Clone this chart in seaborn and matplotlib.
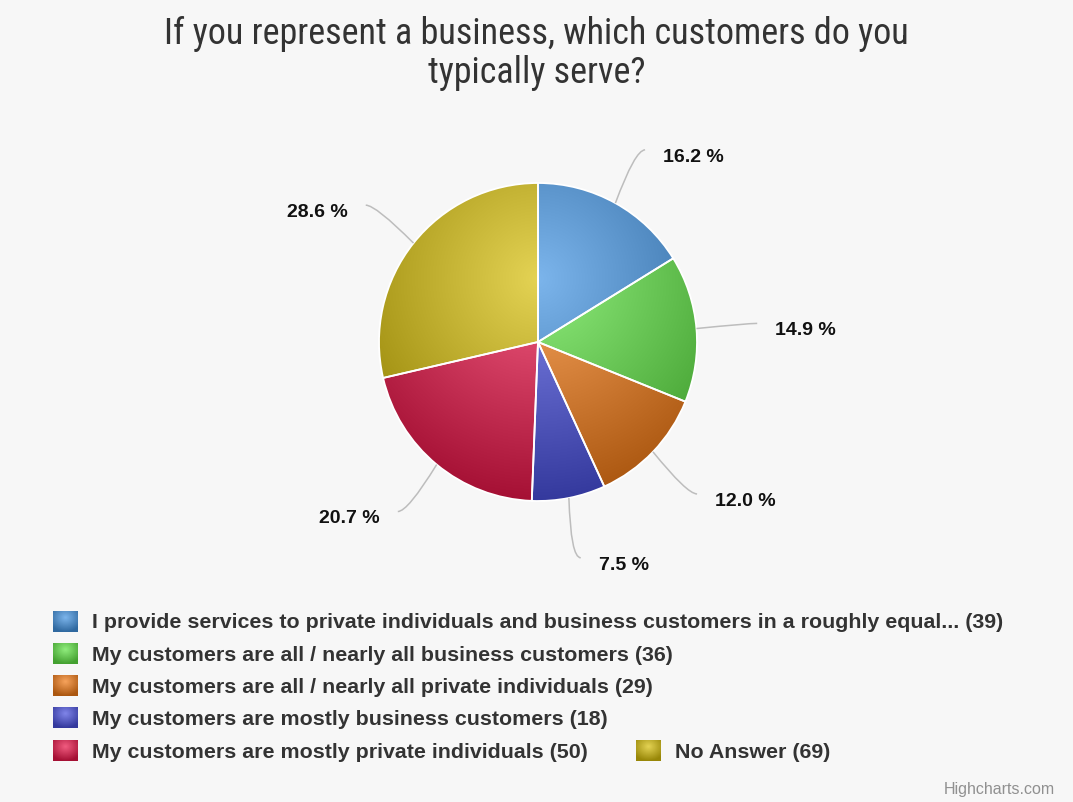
import numpy as np
import matplotlib
matplotlib.use("Agg")
import matplotlib.pyplot as plt
from matplotlib.path import Path
from matplotlib.patches import PathPatch
from matplotlib import font_manager
import seaborn as sns

# ---- data -------------------------------------------------------------
categories = [
    "I provide services to private individuals and business customers in a roughly equal...",
    "My customers are all / nearly all business customers",
    "My customers are all / nearly all private individuals",
    "My customers are mostly business customers",
    "My customers are mostly private individuals",
    "No Answer",
]
counts = [39, 36, 29, 18, 50, 69]
slice_colors = ["#7cb5ec", "#90ed7d", "#f7a35c", "#8085e9", "#f15c80", "#e4d354"]
title = "If you represent a business, which customers do you\ntypically serve?"
credit = "Highcharts.com"

# ---- style ------------------------------------------------------------
W, H = 1073, 803
BG = "#f7f7f7"
sns.set_theme(style="white")
plt.rcParams["font.family"] = ["Liberation Sans", "DejaVu Sans"]
palette = sns.color_palette(slice_colors)

# condensed face for the title when one is installed
installed = {f.name for f in font_manager.fontManager.ttflist}
title_family, title_size = ["Liberation Sans", "DejaVu Sans"], 23
for cand in ["Liberation Sans Narrow", "Roboto Condensed", "Open Sans Condensed"]:
    if cand in installed:
        title_family, title_size = [cand, "DejaVu Sans"], 26
        break

fig = plt.figure(figsize=(W / 100, H / 100), dpi=100, facecolor=BG)
ax = fig.add_axes([0, 0, 1, 1])
ax.set_facecolor(BG)

# pie geometry in pixel units (y measured upward)
cx, cy, R = 538, H - 343, 159
DARKEN = 76 / 255.0

wedges, _ = ax.pie(
    counts, colors=palette, startangle=90, counterclock=False,
    center=(cx, cy), radius=R,
    wedgeprops=dict(edgecolor="white", linewidth=1.3),
)

# radial shading shared by all slices: lightest above the centre
gx, gy, gr = cx, cy + 0.4 * R, 1.4 * R
xs = np.linspace(cx - R - 3, cx + R + 3, 500)
ys = np.linspace(cy - R - 3, cy + R + 3, 500)
XX, YY = np.meshgrid(xs, ys)
tt = np.clip(np.hypot(XX - gx, YY - gy) / gr, 0, 1)
for w, col in zip(wedges, palette):
    img = np.clip(np.array(col)[None, None, :] - DARKEN * tt[..., None], 0, 1)
    im = ax.imshow(img, extent=(xs[0], xs[-1], ys[0], ys[-1]), origin="lower",
                   interpolation="bilinear", zorder=1)
    im.set_clip_path(w)
    w.set_facecolor("none")
    w.set_zorder(2)

# percentage labels with soft connectors
total = float(sum(counts))
for w, n in zip(wedges, counts):
    mid = np.deg2rad((w.theta1 + w.theta2) / 2)
    dx, dy = np.cos(mid), np.sin(mid)
    sx, sy = cx + R * dx, cy + R * dy
    ex, ey = cx + 220 * dx, cy + 220 * dy
    side = 1 if dx >= 0 else -1
    path = Path([(sx, sy), (ex - side * 10, ey), (ex, ey)],
                [Path.MOVETO, Path.CURVE3, Path.CURVE3])
    ax.add_patch(PathPatch(path, fill=False, edgecolor="#bdbdbd", lw=1.1, zorder=3))
    ax.annotate(f"{n / total * 100:.1f} %", xy=(ex, ey),
                xytext=(side * 13, -4.5), textcoords="offset points",
                ha="left" if side > 0 else "right", va="center",
                fontsize=14, fontweight="bold", color="#111111")

# legend laid out as a flowing block
fig.canvas.draw()
renderer = fig.canvas.get_renderer()
MW, MH, GAP, ITEM_GAP, ROW_H = 25, 21, 14, 48, 32.3
LEG_FS = 15.4
labels = [f"{c} ({n})" for c, n in zip(categories, counts)]
widths = []
for lab in labels:
    t = ax.text(0, 0, lab, fontsize=LEG_FS, fontweight="bold")
    widths.append(t.get_window_extent(renderer).width)
    t.remove()
max_w = W - 60
rows, row, row_w = [], [], 0
for i, tw in enumerate(widths):
    iw = MW + GAP + tw
    need = iw if not row else row_w + ITEM_GAP + iw
    if row and need > max_w:
        rows.append(row)
        row, row_w = [], 0
        need = iw
    row.append(i)
    row_w = need
rows.append(row)
leg_w = max(sum(MW + GAP + widths[i] for i in r) + ITEM_GAP * (len(r) - 1) for r in rows)
x_start = (W - leg_w) / 2 - 8
y0 = 623
for ri, r in enumerate(rows):
    x = x_start
    yc = H - (y0 + ri * ROW_H)
    for i in r:
        bx, by = x, yc - MH / 2 + 1
        mx = np.linspace(bx, bx + MW, 30)
        my = np.linspace(by, by + MH, 30)
        MX, MY = np.meshgrid(mx, my)
        mt = np.clip(np.hypot((MX - (bx + MW / 2)) / MW, (MY - (by + 0.7 * MH)) / MH) / 0.7, 0, 1)
        mimg = np.clip(np.array(palette[i])[None, None, :] - DARKEN * mt[..., None], 0, 1)
        ax.imshow(mimg, extent=(bx, bx + MW, by, by + MH), origin="lower",
                  interpolation="bilinear", zorder=2)
        ax.text(x + MW + GAP, yc, labels[i], fontsize=LEG_FS, fontweight="bold",
                color="#333333", ha="left", va="center")
        x += MW + GAP + widths[i] + ITEM_GAP

# title and credit
fig.text(0.5, 1 - 16 / H, title, ha="center", va="top", fontsize=title_size,
         color="#333333", linespacing=1.1, family=title_family)
fig.text(1 - 18 / W, 1 - 790 / H, credit, ha="right", va="center",
         fontsize=11.5, color="#909090")

ax.set_xlim(0, W)
ax.set_ylim(0, H)
ax.set_aspect("auto")
ax.axis("off")
fig.savefig("out.png", dpi=100, facecolor=BG)
